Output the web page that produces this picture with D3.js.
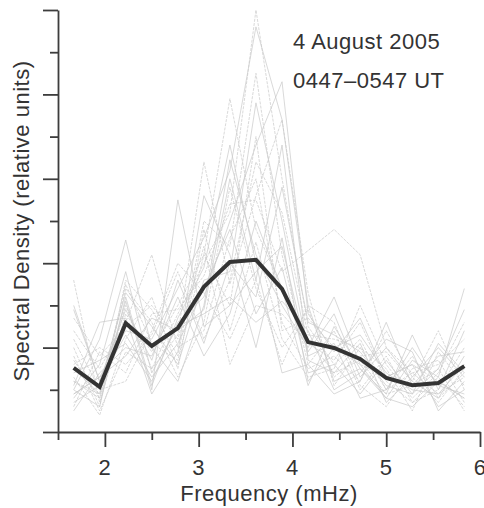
<!DOCTYPE html>
<html>
<head>
<meta charset="utf-8">
<script src="https://cdn.jsdelivr.net/npm/d3@7/dist/d3.min.js"></script>
<style>
  html, body { margin: 0; padding: 0; background: #fff; }
  svg { display: block; }
  text { font-family: "Liberation Sans", Arial, Helvetica, sans-serif; fill: #333; letter-spacing: 0.5px; }
</style>
</head>
<body>
<svg id="chart" width="484" height="508"></svg>
<script>
// ---- data ----
const frequencies = [1.667, 1.944, 2.222, 2.5, 2.778, 3.056, 3.333, 3.611, 3.889, 4.167, 4.444, 4.722, 5.0, 5.278, 5.556, 5.833];
const meanSpectrum = [1.52, 1.07, 2.58, 2.04, 2.46, 3.44, 4.03, 4.08, 3.39, 2.13, 1.99, 1.73, 1.28, 1.11, 1.16, 1.56];
const s01 = [1.2, 0.8, 3.0, 1.5, 2.8, 4.0, 5.2, 10.0, 6.0, 2.5, 1.6, 2.2, 1.0, 1.4, 0.9, 1.3];
const s02 = [0.9, 1.3, 2.4, 2.2, 3.4, 4.6, 6.2, 9.6, 7.4, 3.0, 1.2, 1.5, 0.8, 0.6, 1.2, 0.8];
const s03 = [2.0, 0.6, 3.6, 2.9, 1.8, 5.0, 4.4, 8.5, 4.2, 1.6, 2.4, 1.0, 1.8, 0.7, 1.0, 2.0];
const s04 = [1.4, 1.7, 2.1, 1.2, 2.6, 3.2, 5.0, 6.8, 8.3, 2.8, 1.9, 2.7, 1.3, 1.6, 0.6, 1.0];
const s05 = [3.6, 0.7, 2.8, 1.9, 3.0, 4.2, 7.9, 4.8, 3.4, 2.2, 1.4, 1.7, 0.9, 1.1, 1.5, 0.5];
const s06 = [0.7, 1.1, 3.3, 2.5, 1.6, 3.6, 3.8, 7.8, 5.0, 1.9, 2.8, 1.3, 2.0, 1.2, 0.8, 1.8];
const s07 = [1.8, 0.5, 1.9, 1.5, 2.3, 6.4, 3.5, 5.6, 7.4, 3.3, 1.1, 2.0, 1.5, 0.5, 1.9, 1.1];
const s08 = [1.0, 2.2, 4.55, 2.0, 1.2, 3.0, 6.45, 4.2, 3.0, 2.0, 3.2, 1.6, 0.8, 1.7, 1.3, 3.4];
const s09 = [2.4, 1.5, 2.6, 4.2, 2.0, 2.4, 4.6, 6.0, 2.6, 1.5, 1.8, 1.2, 2.4, 1.3, 0.7, 1.5];
const s10 = [1.5, 0.9, 3.1, 1.0, 5.5, 2.5, 3.0, 3.8, 4.4, 1.8, 2.1, 0.8, 1.0, 2.0, 1.1, 0.9];
const s11 = [0.6, 1.9, 1.4, 2.8, 2.9, 3.7, 5.4, 5.5, 3.8, 4.3, 4.8, 4.2, 2.0, 1.4, 1.6, 2.2];
const s12 = [3.0, 1.2, 2.9, 1.7, 3.6, 2.1, 4.0, 3.2, 5.8, 2.6, 2.3, 1.9, 1.1, 0.9, 2.1, 1.4];
const s13 = [1.3, 0.4, 2.2, 3.2, 1.5, 4.8, 2.4, 4.5, 2.2, 1.3, 1.5, 3.0, 1.6, 0.8, 1.4, 2.6];
const s14 = [0.8, 1.6, 3.8, 1.4, 2.5, 2.8, 3.2, 2.6, 3.1, 2.4, 1.0, 1.4, 2.2, 1.9, 0.5, 1.2];
const s15 = [2.2, 1.0, 1.2, 2.4, 4.0, 3.3, 2.2, 3.6, 1.6, 3.0, 2.6, 1.1, 0.6, 1.5, 1.7, 0.7];
const s16 = [1.1, 2.6, 2.7, 0.9, 1.9, 5.6, 4.2, 2.0, 4.6, 1.2, 2.0, 2.3, 1.4, 1.0, 0.9, 1.6];
const s17 = [1.7, 0.8, 3.4, 2.6, 1.3, 2.6, 5.8, 3.4, 2.0, 2.9, 1.3, 1.8, 1.9, 1.2, 2.4, 1.0];
const s18 = [0.5, 1.4, 2.0, 1.8, 3.2, 1.8, 2.8, 5.0, 3.4, 1.1, 2.5, 1.5, 0.9, 2.3, 1.0, 2.4];
const s19 = [2.7, 1.8, 2.5, 3.0, 2.2, 4.4, 1.6, 3.0, 2.8, 2.1, 1.7, 2.6, 1.2, 0.7, 1.3, 0.6];
const s20 = [1.0, 0.6, 3.2, 1.1, 2.7, 3.9, 6.8, 4.0, 1.4, 1.6, 0.9, 1.2, 2.6, 1.1, 1.8, 1.9];
const s21 = [1.6, 2.0, 1.6, 2.3, 3.8, 2.2, 3.6, 6.4, 5.2, 2.3, 2.2, 2.0, 1.0, 1.8, 0.8, 1.4];
const s22 = [2.9, 1.2, 2.3, 1.3, 2.1, 3.4, 4.8, 2.8, 3.9, 1.4, 1.6, 0.9, 1.7, 0.9, 1.5, 2.9];
const s23 = [1.2, 0.9, 3.5, 2.1, 1.7, 4.2, 3.0, 7.0, 2.4, 2.7, 2.0, 1.6, 1.3, 1.6, 1.2, 0.8];
const s24 = [0.9, 1.3, 1.8, 2.7, 2.4, 2.9, 6.0, 3.6, 6.8, 1.7, 1.4, 2.1, 0.7, 1.3, 2.0, 1.3];
const individualSpectra = [s01, s02, s03, s04, s05, s06, s07, s08, s09, s10, s11, s12,
                           s13, s14, s15, s16, s17, s18, s19, s20, s21, s22, s23, s24];
const xMajorTicks = [2, 3, 4, 5, 6];
const xMinorTicks = [1.5, 2.5, 3.5, 4.5, 5.5];
const yMajorTicks = [0, 2, 4, 6, 8, 10];
const yMinorTicks = [1, 3, 5, 7, 9];
const annotationLines = ["4 August 2005", "0447\u20130547 UT"];
const xLabel = "Frequency (mHz)";
const yLabel = "Spectral Density (relative units)";

// ---- layout ----
const svg = d3.select("#chart");
const x = d3.scaleLinear().domain([1.5, 6]).range([58, 480]);
const y = d3.scaleLinear().domain([0, 10]).range([432, 10]);
const axisColor = "#3d3d3d";

// grey individual spectra
const line = d3.line().x((d, i) => x(frequencies[i])).y(d => y(d));
svg.append("g")
  .selectAll("path")
  .data(individualSpectra)
  .join("path")
  .attr("d", line)
  .attr("fill", "none")
  .attr("stroke", "#c9c9c9")
  .attr("stroke-width", 0.7)
  .attr("stroke-dasharray", (d, i) => i % 2 === 0 ? "3,1.2" : null);

// mean spectrum
svg.append("path")
  .datum(meanSpectrum)
  .attr("d", line)
  .attr("fill", "none")
  .attr("stroke", "#333")
  .attr("stroke-width", 4)
  .attr("stroke-linejoin", "miter");

function styleAxis(g) {
  g.select(".domain").attr("stroke", axisColor).attr("stroke-width", 1.8);
  g.selectAll(".tick line").attr("stroke", axisColor).attr("stroke-width", 1.8);
  g.selectAll(".tick text").remove();
}

// x axis
svg.append("g").attr("transform", "translate(0,432)")
  .call(d3.axisBottom(x).tickValues(xMajorTicks).tickSize(15).tickSizeOuter(0).tickFormat(""))
  .call(styleAxis);
svg.append("g").attr("transform", "translate(0,432)")
  .call(d3.axisBottom(x).tickValues(xMinorTicks).tickSize(8).tickSizeOuter(0).tickFormat(""))
  .call(g => g.select(".domain").remove())
  .call(styleAxis);

// y axis
svg.append("g").attr("transform", "translate(58,0)")
  .call(d3.axisLeft(y).tickValues(yMajorTicks).tickSize(15).tickSizeOuter(0).tickFormat(""))
  .call(styleAxis);
svg.append("g").attr("transform", "translate(58,0)")
  .call(d3.axisLeft(y).tickValues(yMinorTicks).tickSize(8).tickSizeOuter(0).tickFormat(""))
  .call(g => g.select(".domain").remove())
  .call(styleAxis);

// x tick labels
svg.append("g").selectAll("text")
  .data(xMajorTicks)
  .join("text")
  .attr("x", d => x(d))
  .attr("y", 475)
  .attr("text-anchor", "middle")
  .attr("font-size", 22)
  .text(d => d);

// axis titles
svg.append("text")
  .attr("x", (x.range()[0] + x.range()[1]) / 2)
  .attr("y", 501)
  .attr("text-anchor", "middle")
  .attr("font-size", 22)
  .text(xLabel);

svg.append("text")
  .attr("transform", `translate(29,${(y.range()[0] + y.range()[1]) / 2}) rotate(-90)`)
  .attr("text-anchor", "middle")
  .attr("font-size", 22)
  .text(yLabel);

// annotation
svg.append("g").selectAll("text")
  .data(annotationLines)
  .join("text")
  .attr("x", 293)
  .attr("y", (d, i) => 49 + i * 39)
  .attr("font-size", 22)
  .text(d => d);
</script>
</body>
</html>
